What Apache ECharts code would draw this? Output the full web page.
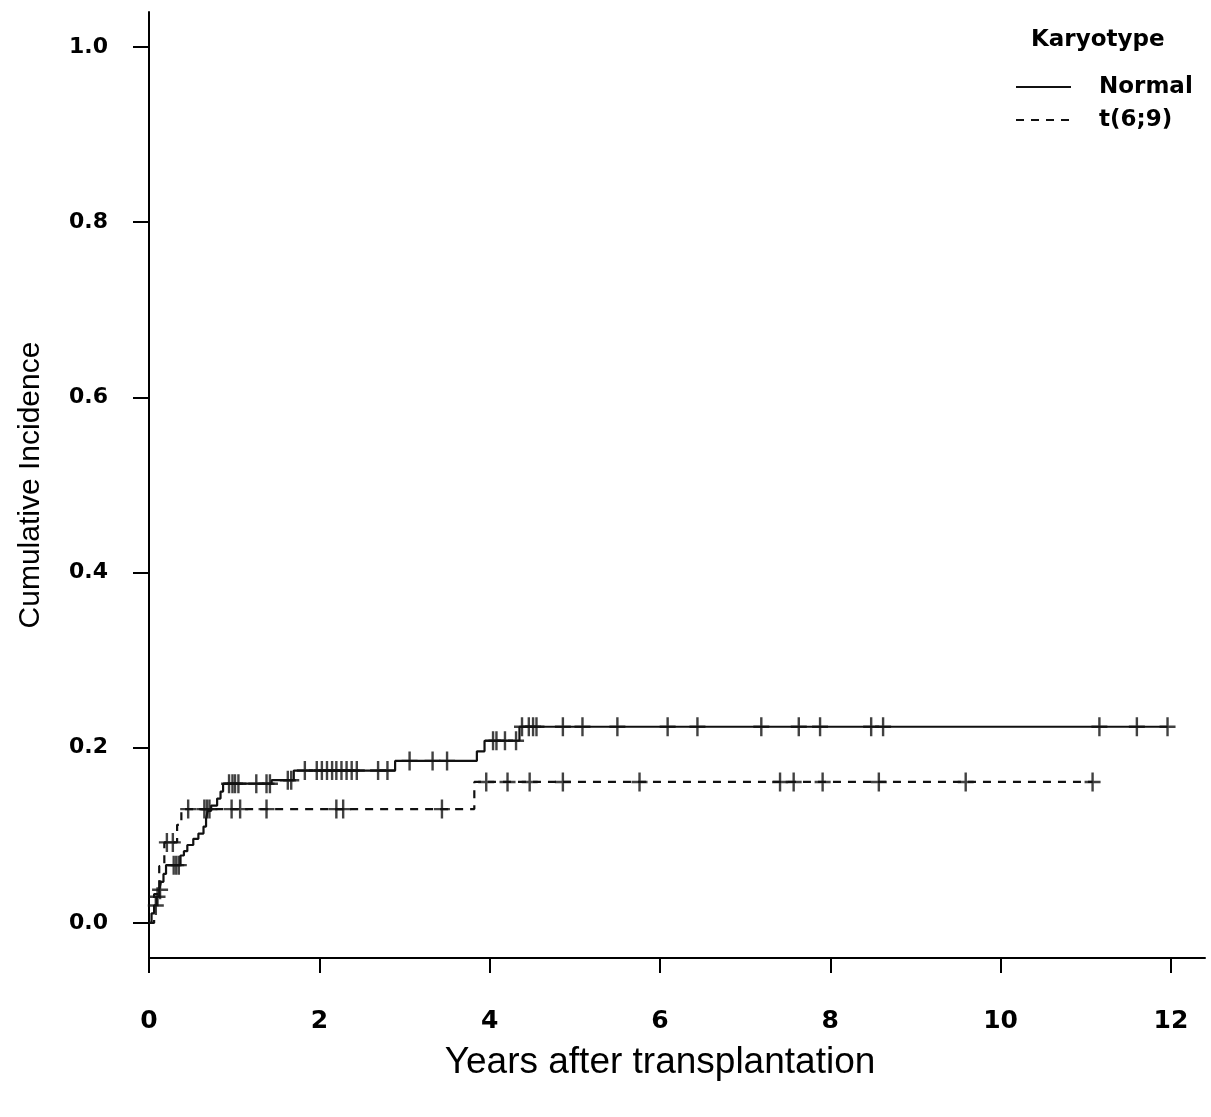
<!DOCTYPE html>
<html>
<head>
<meta charset="utf-8">
<script src="https://cdn.jsdelivr.net/npm/echarts@6/dist/echarts.min.js"></script>
<style>
html,body{margin:0;padding:0;background:#fff;}
#chart{width:1211px;height:1117px;}
</style>
</head>
<body>
<div id="chart"></div>
<script>
// ---- data ----
const xTicks = [0, 2, 4, 6, 8, 10, 12];
const yTicks = [0, 0.2, 0.4, 0.6, 0.8, 1.0];

// Normal karyotype: step times (years) and cumulative incidence after each step
const normalTimes = [0, 0.03, 0.06, 0.09, 0.12, 0.14, 0.17, 0.2, 0.37, 0.41, 0.45, 0.52, 0.58, 0.64, 0.67, 0.69, 0.73, 0.8, 0.84, 0.87, 1.44, 1.7, 2.89, 3.85, 3.94, 4.35, 11.96];
const normalCI    = [0, 0.011, 0.02, 0.03, 0.038, 0.047, 0.056, 0.066, 0.077, 0.082, 0.089, 0.096, 0.102, 0.11, 0.119, 0.128, 0.134, 0.142, 0.15, 0.159, 0.163, 0.174, 0.185, 0.196, 0.208, 0.224, 0.224];
const normalCensor = [0.08, 0.1, 0.13, 0.29, 0.32, 0.35, 0.94, 0.98, 1.01, 1.05, 1.26, 1.38, 1.42, 1.63, 1.67, 1.83, 1.97, 2.03, 2.09, 2.15, 2.2, 2.26, 2.32, 2.38, 2.44, 2.69, 2.8, 3.06, 3.33, 3.5, 4.04, 4.08, 4.18, 4.31, 4.38, 4.46, 4.51, 4.55, 4.86, 5.09, 5.5, 6.09, 6.44, 7.19, 7.63, 7.88, 8.48, 8.62, 11.16, 11.6, 11.96];

// t(6;9)
const t69Times = [0, 0.06, 0.12, 0.18, 0.33, 0.38, 3.82, 11.08];
const t69CI    = [0, 0.033, 0.065, 0.092, 0.112, 0.13, 0.161, 0.161];
const t69Censor = [0.21, 0.28, 0.46, 0.65, 0.68, 0.71, 0.97, 1.07, 1.38, 2.2, 2.28, 3.44, 3.96, 4.21, 4.47, 4.86, 5.76, 7.41, 7.57, 7.91, 8.57, 9.59, 11.08];

const groupNames = ['Normal', 't(6;9)'];

// ---- helpers ----
function stepPairs(times, vals) { return times.map((t, i) => [t, vals[i]]); }
function valueAt(times, vals, t) {
  let v = vals[0];
  for (let i = 0; i < times.length; i++) { if (times[i] <= t) v = vals[i]; }
  return v;
}
function censorPairs(ct, times, vals) { return ct.map(t => [t, valueAt(times, vals, t)]); }

// filled "+" censor glyph (16 x 19 units, arm thickness 2.4)
const plusPath = 'path://M6.8,0 H9.2 V8.3 H16 V10.7 H9.2 V19 H6.8 V10.7 H0 V8.3 H6.8 Z';
const ink = '#000';
const boldFont = 'DejaVu Sans';

const chart = echarts.init(document.getElementById('chart'), null, {renderer: 'canvas'});
chart.setOption({
  animation: false,
  backgroundColor: '#fff',
  grid: {left: 149, right: 6, top: 12, bottom: 159, containLabel: false},
  title: {
    text: 'Karyotype', left: 1031, top: 29, padding: 0,
    textStyle: {fontFamily: boldFont, fontWeight: 'bold', fontSize: 23, color: '#000'}
  },
  legend: {
    data: groupNames, orient: 'vertical', left: 1015, top: 75, padding: 0,
    itemWidth: 55, itemHeight: 14, itemGap: 9,
    itemStyle: {color: 'transparent', borderColor: 'transparent', borderWidth: 0, opacity: 0},
    textStyle: {fontFamily: boldFont, fontWeight: 'bold', fontSize: 23, color: '#000', lineHeight: 24, padding: [0, 0, 0, 23]},
    selectedMode: false
  },
  xAxis: {
    type: 'value', min: 0, max: 12.4,
    axisLine: {onZero: false, lineStyle: {color: ink, width: 2}},
    axisTick: {show: true, length: 15, customValues: xTicks, lineStyle: {color: ink, width: 2}},
    axisLabel: {customValues: xTicks, margin: 51, fontFamily: boldFont, fontWeight: 'bold', fontSize: 25, color: '#000'},
    splitLine: {show: false}
  },
  yAxis: {
    type: 'value', min: -0.04, max: 1.04,
    axisLine: {show: true, onZero: false, lineStyle: {color: ink, width: 2}},
    axisTick: {show: true, length: 16, customValues: yTicks, lineStyle: {color: ink, width: 2}},
    axisLabel: {customValues: yTicks, margin: 41, fontFamily: boldFont, fontWeight: 'bold', fontSize: 22, color: '#000',
      formatter: v => v.toFixed(1)},
    splitLine: {show: false}
  },
  graphic: [
    {type: 'text', x: 660, y: 1063, silent: true,
     style: {text: 'Years after transplantation', align: 'center', verticalAlign: 'middle', font: '37px "Liberation Sans"', fill: '#000'}},
    {type: 'text', x: 31, y: 485, rotation: Math.PI / 2, silent: true,
     style: {text: 'Cumulative Incidence', align: 'center', verticalAlign: 'middle', font: '30px "Liberation Sans"', fill: '#000'}}
  ],
  series: [
    {name: groupNames[0], type: 'line', step: 'end', symbol: 'none', silent: true,
     data: stepPairs(normalTimes, normalCI),
     lineStyle: {color: '#111', width: 2.2, type: 'solid'}, itemStyle: {color: '#111'}},
    {name: groupNames[1], type: 'line', step: 'end', symbol: 'none', silent: true,
     data: stepPairs(t69Times, t69CI),
     lineStyle: {color: '#111', width: 2.2, type: [8, 7]}, itemStyle: {color: '#111'}},
    {name: 'Normal censored', type: 'scatter', symbol: plusPath, symbolSize: [16, 19], silent: true,
     data: censorPairs(normalCensor, normalTimes, normalCI),
     itemStyle: {color: '#111', borderWidth: 0}},
    {name: 't(6;9) censored', type: 'scatter', symbol: plusPath, symbolSize: [16, 19], silent: true,
     data: censorPairs(t69Censor, t69Times, t69CI),
     itemStyle: {color: '#111', borderWidth: 0}}
  ]
});
</script>
</body>
</html>
